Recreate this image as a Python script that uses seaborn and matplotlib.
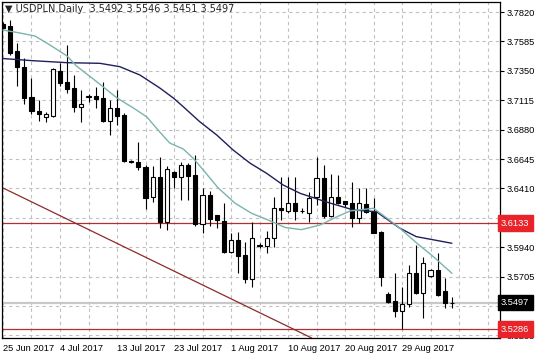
import matplotlib
matplotlib.use("Agg")
import matplotlib.pyplot as plt
import seaborn as sns
import pandas as pd

# USDPLN daily bars, 25 Jun 2017 .. 6 Sep 2017 (broker shows Sunday bars too)
opens = [3.7724, 3.7708, 3.7511, 3.7378, 3.7138, 3.7031, 3.6983, 3.6989, 3.7351, 3.7263,
         3.7210, 3.7063, 3.7143, 3.7149, 3.7130, 3.6951, 3.7051, 3.6997, 3.6626, 3.6624,
         3.6584, 3.6339, 3.6504, 3.6144, 3.6544, 3.6499, 3.6598, 3.6518, 3.6124, 3.6358,
         3.6198, 3.6150, 3.5905, 3.5998, 3.5878, 3.5687, 3.5953, 3.5953, 3.6017, 3.6256,
         3.6232, 3.6291, 3.6228, 3.6216, 3.6339, 3.6491, 3.6190, 3.6339, 3.6310, 3.6296,
         3.6172, 3.6283, 3.6230, 3.6065, 3.5564, 3.5511, 3.5433, 3.5485, 3.5732, 3.5572,
         3.5711, 3.5759, 3.5591, 3.5492]
highs = [3.7740, 3.7756, 3.7570, 3.7450, 3.7295, 3.7117, 3.7023, 3.7370, 3.7410, 3.7556,
         3.7317, 3.7197, 3.7165, 3.7223, 3.7263, 3.7117, 3.7197, 3.7011, 3.6640, 3.6784,
         3.6598, 3.6590, 3.6664, 3.6590, 3.6550, 3.6624, 3.6611, 3.6677, 3.6411, 3.6392,
         3.6200, 3.6291, 3.6052, 3.6065, 3.5985, 3.6144, 3.5972, 3.6073, 3.6344, 3.6499,
         3.6499, 3.6504, 3.6250, 3.6384, 3.6664, 3.6598, 3.6523, 3.6518, 3.6312, 3.6464,
         3.6411, 3.6411, 3.6331, 3.6068, 3.5585, 3.5732, 3.5625, 3.5798, 3.5958, 3.5865,
         3.5765, 3.5892, 3.5692, 3.5546]
lows = [3.7684, 3.7476, 3.7229, 3.7083, 3.7005, 3.6949, 3.6944, 3.6981, 3.7229, 3.7170,
        3.7023, 3.6944, 3.7103, 3.7051, 3.6944, 3.6837, 3.6917, 3.6624, 3.6612, 3.6558,
        3.6246, 3.6304, 3.6092, 3.6078, 3.6411, 3.6318, 3.6318, 3.6113, 3.6052, 3.6113,
        3.6092, 3.5892, 3.5892, 3.5732, 3.5652, 3.5625, 3.5932, 3.5897, 3.5940, 3.6160,
        3.6216, 3.6158, 3.6210, 3.6144, 3.6278, 3.6176, 3.6179, 3.6286, 3.6264, 3.6104,
        3.6131, 3.6212, 3.6052, 3.5631, 3.5492, 3.5385, 3.5286, 3.5465, 3.5567, 3.5373,
        3.5705, 3.5551, 3.5452, 3.5451]
closes = [3.7692, 3.7495, 3.7378, 3.7135, 3.7031, 3.7003, 3.7005, 3.7362, 3.7255, 3.7205,
          3.7063, 3.7085, 3.7145, 3.7122, 3.6951, 3.7055, 3.6991, 3.6629, 3.6624, 3.6579,
          3.6331, 3.6504, 3.6144, 3.6563, 3.6499, 3.6598, 3.6512, 3.6124, 3.6358, 3.6164,
          3.6158, 3.5905, 3.5998, 3.5873, 3.5687, 3.6017, 3.5955, 3.6017, 3.6252, 3.6238,
          3.6291, 3.6232, 3.6230, 3.6331, 3.6491, 3.6190, 3.6344, 3.6291, 3.6286, 3.6176,
          3.6291, 3.6220, 3.6057, 3.5705, 3.5500, 3.5431, 3.5487, 3.5732, 3.5572, 3.5817,
          3.5759, 3.5559, 3.5492, 3.5497]

# moving averages (bar index, price)
slow_ma_x = [0, 4.2, 9, 13.6, 16.4, 19.2, 22, 23.9, 25.3, 27.6, 30, 32.3, 34.7, 37,
             39.3, 41.7, 45.5, 49.2, 52.4, 55.7, 58, 63]
slow_ma_y = [3.7448, 3.7431, 3.7415, 3.7410, 3.7383, 3.7317, 3.7213, 3.7133, 3.7063,
             3.6944, 3.6837, 3.6717, 3.6611, 3.6531, 3.6438, 3.6371, 3.6300, 3.6238,
             3.6224, 3.6092, 3.6025, 3.5972]
fast_ma_x = [0, 2.4, 4.5, 6.6, 9, 10.3, 13.2, 16, 18.3, 20.2, 22, 23.4, 25.3, 26.7, 28.1,
             30.2, 32.6, 34.9, 37.2, 39.6, 41.9, 44.5, 46.8, 48.7, 52, 53.9, 55.7, 58.1,
             60.4, 63]
fast_ma_y = [3.7676, 3.7652, 3.7628, 3.7556, 3.7468, 3.7389, 3.7261, 3.7133, 3.7053,
             3.6981, 3.6861, 3.6773, 3.6725, 3.6651, 3.6558, 3.6414, 3.6291, 3.6211,
             3.6158, 3.6098, 3.6081, 3.6118, 3.6182, 3.6230, 3.6252, 3.6172, 3.6092,
             3.5972, 3.5865, 3.5732]

date_labels = ["25 Jun 2017", "4 Jul 2017", "13 Jul 2017", "23 Jul 2017",
               "1 Aug 2017", "10 Aug 2017", "20 Aug 2017", "29 Aug 2017"]
price_ticks = [3.5235, 3.5470, 3.5705, 3.5940, 3.6175, 3.6410, 3.6645, 3.6880,
               3.7115, 3.7350, 3.7585, 3.7820]
resistance = 3.6133
support = 3.5286
bid = 3.5497
trend_pts = [(0, 3.6414), (40, 3.5307)]
header = "\u25bc USDPLN.Daily  3.5492 3.5546 3.5451 3.5497"

df = pd.DataFrame({"open": opens, "high": highs, "low": lows, "close": closes})
df["bar"] = range(len(df))
up = df["close"] >= df["open"]

sns.set_style("white")
plt.rcParams["font.family"] = ["Liberation Sans", "DejaVu Sans"]
plt.rcParams["font.size"] = 6.7

fig = plt.figure(figsize=(5.36, 3.57), dpi=100)
ax = fig.add_axes([2 / 536, 19 / 357, 498 / 536, 336 / 357])

grid_kw = dict(color="#c0c0c0", lw=0.8, ls=(0, (3, 3)), zorder=0)
for b in range(0, 72, 4):
    ax.axvline(b, **grid_kw)
for p in price_ticks:
    ax.axhline(p, **grid_kw)

ax.axhline(bid, color="#c8c8c8", lw=1.6, zorder=1)
ax.axhline(resistance, color="#b03030", lw=0.9, zorder=1)
ax.axhline(support, color="#b03030", lw=0.9, zorder=1)
ax.axline(trend_pts[0], trend_pts[1], color="#8e2a2a", lw=0.9, zorder=1)

# candles
ax.vlines(df["bar"], df["low"], df["high"], color="black", lw=0.8, zorder=2)
body_lo = df[["open", "close"]].min(axis=1)
body_hi = df[["open", "close"]].max(axis=1)
ax.bar(df["bar"], body_hi - body_lo, bottom=body_lo, width=0.58,
       color=["white" if u else "black" for u in up], edgecolor="black",
       linewidth=0.8, zorder=3)

sns.lineplot(x=slow_ma_x, y=slow_ma_y, ax=ax, color="#1f1f5c", lw=1.0, zorder=4)
sns.lineplot(x=fast_ma_x, y=fast_ma_y, ax=ax, color="#7ab4ad", lw=1.0, zorder=4)

ax.set_xlim(-0.14, 69.75)
ax.set_ylim(3.5215, 3.7900)

ax.set_xticks(range(0, 64, 8))
ax.set_xticklabels(date_labels, ha="left")
ax.yaxis.tick_right()
ax.set_yticks(price_ticks)
ax.set_yticklabels([f"{p:.4f}" for p in price_ticks])
ax.tick_params(axis="both", direction="out", length=3, width=0.8, colors="black",
               labelsize=6.7, pad=1.5)
ax.tick_params(axis="x", pad=1)
for s in ax.spines.values():
    s.set_color("black")
    s.set_linewidth(0.9)

ax.text(0.006, 0.979, header, transform=ax.transAxes, fontsize=7,
        va="center", ha="left", family=["DejaVu Sans"], zorder=6)

ytr = ax.get_yaxis_transform()
for val, bg in [(resistance, "#e8242a"), (bid, "black"), (support, "#e8242a")]:
    ax.text(1.002, val, f"{val:.4f}", transform=ytr, ha="left", va="center",
            color="white", fontsize=6.7, clip_on=False, zorder=10,
            bbox=dict(boxstyle="square,pad=0.35", fc=bg, ec=bg))

ax.set_xlabel("")
ax.set_ylabel("")
fig.savefig("out.png", dpi=100)
